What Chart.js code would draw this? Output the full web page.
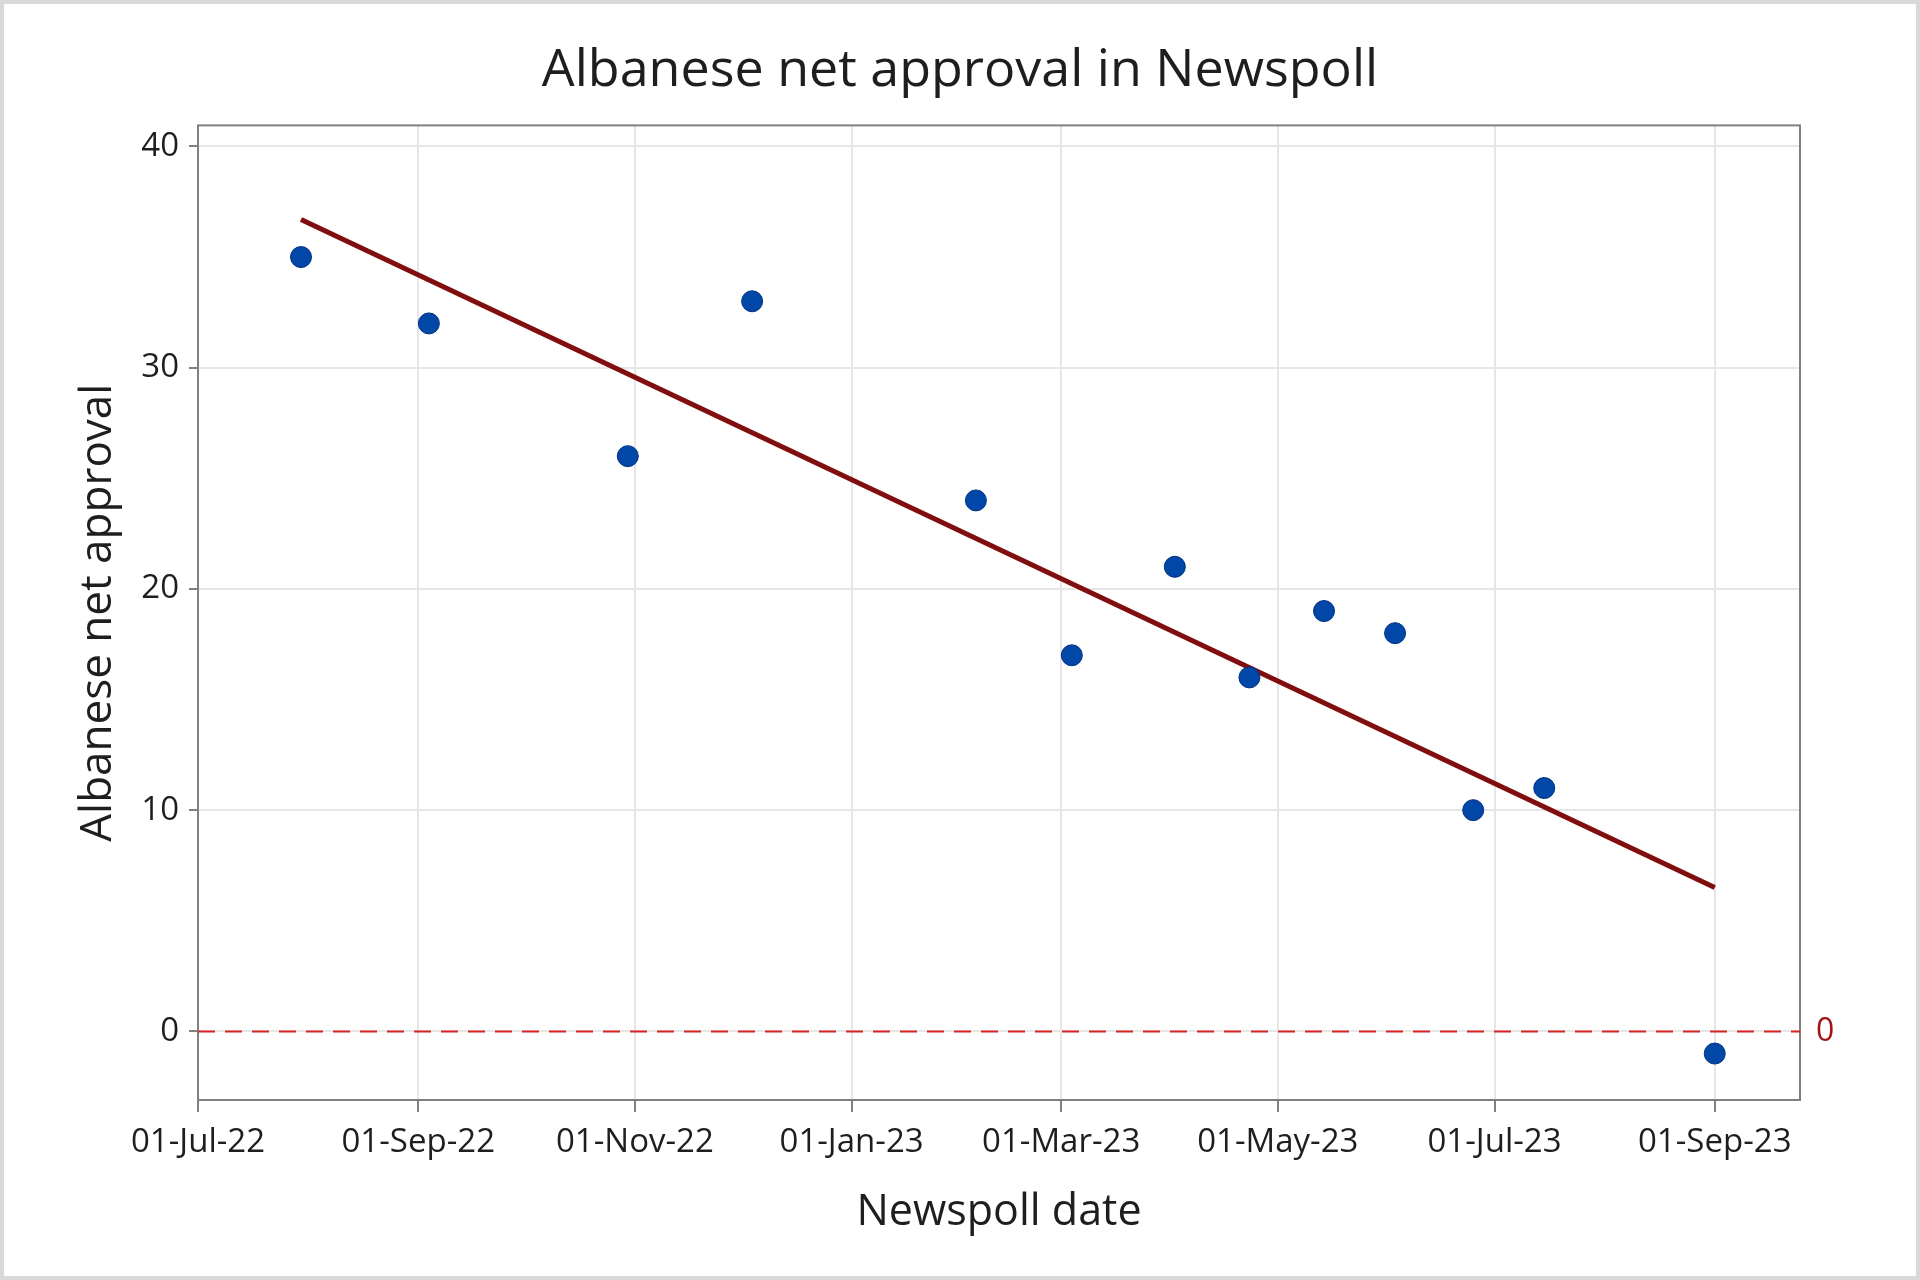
<!DOCTYPE html>
<html>
<head>
<meta charset="utf-8">
<script src="https://cdn.jsdelivr.net/npm/chart.js@4.4.1/dist/chart.umd.min.js"></script>
<style>
  html, body { margin: 0; padding: 0; background: #fff; }
</style>
</head>
<body>
<canvas id="chart1" width="1920" height="1280"></canvas>
<script>
// poll dates and net approval
const pollDates = ['2022-07-30', '2022-09-04', '2022-10-30', '2022-12-04', '2023-02-05', '2023-03-04',
  '2023-04-02', '2023-04-23', '2023-05-14', '2023-06-03', '2023-06-25', '2023-07-15', '2023-09-01'];
const netApproval = [35, 32, 26, 33, 24, 17, 21, 16, 19, 18, 10, 11, -1];

// fitted trend line, ends
const trendDates = ['2022-07-30', '2023-09-01'];
const trendValues = [36.7, 6.5];

const xTickDates = ['2022-07-01', '2022-09-01', '2022-11-01', '2023-01-01', '2023-03-01', '2023-05-01', '2023-07-01', '2023-09-01'];
const xTickLabels = ['01-Jul-22', '01-Sep-22', '01-Nov-22', '01-Jan-23', '01-Mar-23', '01-May-23', '01-Jul-23', '01-Sep-23'];
const xRange = ['2022-07-01', '2023-09-25'];
const yTicks = [0, 10, 20, 30, 40];
const yRange = [-3.1, 40.95];
const refValue = 0;

const FONT = '"Open Sans", "Noto Sans", sans-serif';
const TEXT = '#1e1e1e';

function toMs(d) { return Date.parse(d + 'T00:00:00Z'); }

const frame = {
  id: 'frame',
  beforeDraw(chart) {
    const c = chart.ctx;
    c.save();
    c.fillStyle = '#ffffff';
    c.fillRect(0, 0, chart.width, chart.height);
    c.strokeStyle = '#d9d9d9';
    c.lineWidth = 4;
    c.strokeRect(2, 2, chart.width - 4, chart.height - 4);
    c.restore();
  },
  beforeDatasetsDraw(chart) {
    const { ctx: c, chartArea: a, scales } = chart;
    const y0 = scales.y.getPixelForValue(refValue);
    c.save();
    c.strokeStyle = '#808080';
    c.lineWidth = 2;
    c.strokeRect(a.left, a.top, a.right - a.left, a.bottom - a.top);
    c.strokeStyle = '#d82323';
    c.setLineDash([17, 10]);
    c.beginPath();
    c.moveTo(a.left, y0);
    c.lineTo(a.right, y0);
    c.stroke();
    c.restore();
  }
};

const ctx = document.getElementById('chart1');

new Chart(ctx, {
  data: {
    datasets: [{
      type: 'scatter',
      label: 'Net approval',
      data: pollDates.map((d, i) => ({ x: toMs(d), y: netApproval[i] })),
      backgroundColor: '#0047a8',
      borderColor: '#00307f',
      borderWidth: 1,
      pointRadius: 10.5,
      order: 1
    }, {
      type: 'line',
      label: 'Trend',
      data: trendDates.map((d, i) => ({ x: toMs(d), y: trendValues[i] })),
      borderColor: '#800e0e',
      borderWidth: 5,
      pointRadius: 0,
      order: 2
    }]
  },
  options: {
    responsive: false,
    animation: false,
    devicePixelRatio: 1,
    layout: { padding: 0 },
    plugins: {
      legend: { display: false },
      tooltip: { enabled: false },
      title: {
        display: true,
        text: 'Albanese net approval in Newspoll',
        color: TEXT,
        font: { family: FONT, size: 52, weight: 'normal' },
        padding: { top: 40, bottom: 23 }
      }
    },
    scales: {
      x: {
        type: 'linear',
        min: toMs(xRange[0]),
        max: toMs(xRange[1]),
        afterBuildTicks(s) { s.ticks = xTickDates.map(d => ({ value: toMs(d) })); },
        afterFit(s) { s.height = 180; },
        ticks: {
          callback: (v, i) => xTickLabels[i],
          color: TEXT,
          font: { family: FONT, size: 33 },
          padding: 11,
          maxRotation: 0,
          autoSkip: false
        },
        grid: { color: '#e6e6e6', lineWidth: 2, tickColor: '#808080', tickWidth: 2, tickLength: 12 },
        border: { display: false },
        title: {
          display: true,
          text: 'Newspoll date',
          color: TEXT,
          font: { family: FONT, size: 43 },
          padding: { top: 0, bottom: 41 }
        }
      },
      y: {
        type: 'linear',
        min: yRange[0],
        max: yRange[1],
        afterBuildTicks(s) { s.ticks = yTicks.map(v => ({ value: v })); },
        afterFit(s) { s.width = 198; },
        ticks: {
          color: TEXT,
          font: { family: FONT, size: 33 },
          padding: 10
        },
        grid: { color: '#e6e6e6', lineWidth: 2, tickColor: '#808080', tickWidth: 2, tickLength: 9 },
        border: { display: false },
        title: {
          display: true,
          text: 'Albanese net approval',
          color: TEXT,
          font: { family: FONT, size: 44 },
          padding: { top: 72, bottom: 0 }
        }
      },
      ref: {
        type: 'linear',
        position: 'right',
        min: yRange[0],
        max: yRange[1],
        afterBuildTicks(s) { s.ticks = [{ value: refValue }]; },
        afterFit(s) { s.width = 120; },
        ticks: {
          color: '#a31515',
          font: { family: FONT, size: 32 },
          padding: 16
        },
        grid: { display: false, drawTicks: false },
        border: { display: false }
      }
    }
  },
  plugins: [frame]
});
</script>
</body>
</html>
